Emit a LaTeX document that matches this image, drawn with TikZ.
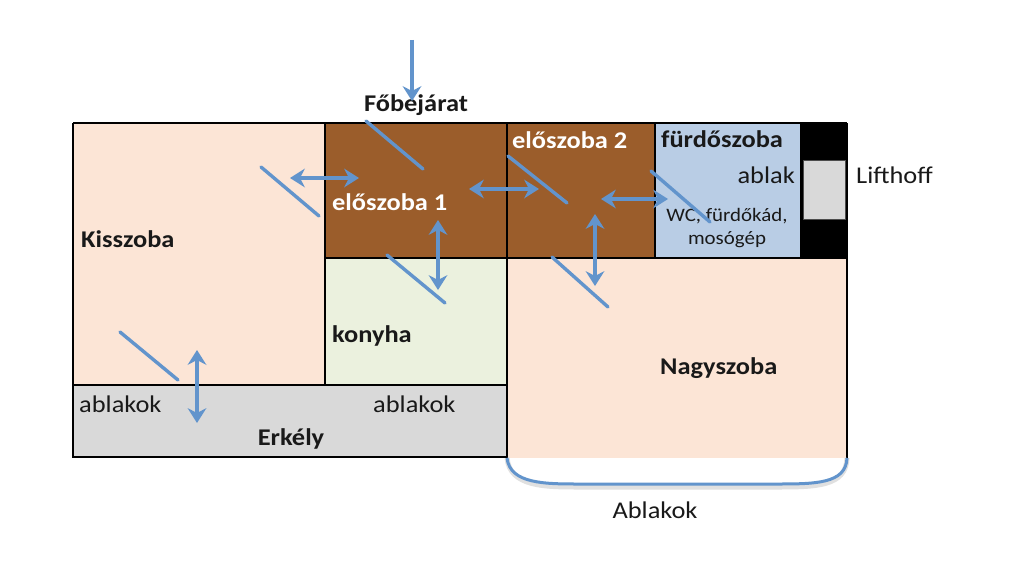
\documentclass[tikz,border=0pt]{standalone}
\usepackage{fontspec}
\setmainfont{Carlito}[FakeStretch=1.1]
\usetikzlibrary{arrows.meta}
\definecolor{peach}{RGB}{252,229,214}
\definecolor{brownroom}{RGB}{155,93,43}
\definecolor{greenroom}{RGB}{235,241,222}
\definecolor{bluroom}{RGB}{185,205,229}
\definecolor{greyroom}{RGB}{217,217,217}
\definecolor{arrowblue}{RGB}{98,148,204}
\definecolor{txt}{RGB}{25,25,25}
\tikzset{
  wall/.style={line width=2pt, black},
  doorline/.style={line width=3.4pt, arrowblue, line cap=round},
  tip/.tip={Stealth[length=15pt,width=19pt,inset=5pt,line width=0pt]},
  dbl/.style={line width=3.5pt, arrowblue, {tip}-{tip}},
  sgl/.style={line width=3.5pt, arrowblue, -{tip}},
  lbl/.style={font=\fontsize{24}{26}\selectfont\bfseries, text=txt, inner sep=0pt, anchor=base west},
  wlbl/.style={lbl, text=white},
  rlbl/.style={font=\fontsize{24}{26}\selectfont, text=txt, inner sep=0pt, anchor=base west},
  slbl/.style={font=\fontsize{19}{21}\selectfont, text=txt, inner sep=0pt, anchor=base},
}
\begin{document}
\begin{tikzpicture}[x=1pt,y=-1pt]
\useasboundingbox[fill=white] (0,0) rectangle (1024,567);
% room fills
\fill[peach] (73,123) rectangle (325,385);
\fill[brownroom] (325,123) rectangle (655,258);
\fill[bluroom] (655,123) rectangle (800,258);
\fill[black] (800,123) rectangle (847,258);
\fill[greyroom, draw=black!70, line width=0.6pt] (803,160) rectangle (845,219);
\fill[greenroom] (325,258) rectangle (507,385);
\fill[greyroom] (73,385) rectangle (507,457);
\fill[peach] (507,258) rectangle (847,458);
% walls
\draw[wall] (73,123) -- (847,123);
\draw[wall] (73,123) -- (73,457) -- (507,457);
\draw[wall] (507,123) -- (507,458);
\draw[wall] (847,123) -- (847,458);
\draw[wall] (325,123) -- (325,385);
\draw[wall] (73,385) -- (507,385);
\draw[wall] (325,258) -- (847,258);
\draw[wall] (655,123) -- (655,258);
% bracket under Nagyszoba
\coordinate (brL) at (507,458);
\coordinate (brR) at (847,458);
\draw[line width=5pt, black!12] (brL) .. controls (510,487) and (545,487) .. (580,487) -- (775,487) .. controls (815,487) and (846,487) .. (brR);
\draw[line width=3pt, arrowblue] (brL) .. controls (510,484) and (545,484) .. (580,484) -- (775,484) .. controls (815,484) and (846,484) .. (brR);
% labels
\node[lbl, anchor=base] (fobej) at (416,111) {Főbejárat};
\node[lbl] (kis) at (81,247) {Kisszoba};
\node[wlbl] (elo1) at (332,210) {előszoba 1};
\node[wlbl] (elo2) at (512,148) {előszoba 2};
\node[lbl] (furdo) at (661,147) {fürdőszoba};
\node[rlbl, anchor=base east] (ablak) at (795,183) {ablak};
\node[slbl] (wc) at (727,221) {WC, fürdőkád,};
\node[slbl] (moso) at (727,244) {mosógép};
\node[rlbl] (lift) at (856,183) {Lifthoff};
\node[lbl] (konyha) at (332,342) {konyha};
\node[lbl] (nagy) at (660,374) {Nagyszoba};
\node[rlbl] (abl1) at (79,412) {ablakok};
\node[rlbl] (abl2) at (373,412) {ablakok};
\node[lbl, anchor=base] (erk) at (291,445) {Erkély};
\node[rlbl, anchor=base] (Abl) at (655,518) {Ablakok};
% door lines
\coordinate (d1a) at (366,121); \coordinate (d1b) at (423,169);
\coordinate (d2a) at (261,167); \coordinate (d2b) at (319,216);
\coordinate (d3a) at (508,156); \coordinate (d3b) at (567,203);
\coordinate (d4a) at (651,171); \coordinate (d4b) at (710,222);
\coordinate (d5a) at (387,255); \coordinate (d5b) at (445,303);
\coordinate (d6a) at (552,257); \coordinate (d6b) at (608,307);
\coordinate (d7a) at (120,332); \coordinate (d7b) at (178,380);
\foreach \d in {1,...,7} {\draw[doorline] (d\d a) -- (d\d b);}
% arrows
\coordinate (eA) at (412,40); \coordinate (eB) at (412,101);
\draw[sgl] (eA) -- (eB);
\coordinate (a1a) at (290,178); \coordinate (a1b) at (359,178);
\draw[dbl] (a1a) -- (a1b);
\coordinate (a2a) at (469,189); \coordinate (a2b) at (539,189);
\draw[dbl] (a2a) -- (a2b);
\coordinate (a3a) at (601,199); \coordinate (a3b) at (668,199);
\draw[dbl] (a3a) -- (a3b);
\coordinate (a4a) at (438,220); \coordinate (a4b) at (438,290);
\draw[dbl] (a4a) -- (a4b);
\coordinate (a5a) at (595,214); \coordinate (a5b) at (595,286);
\draw[dbl] (a5a) -- (a5b);
\coordinate (a6a) at (197,350); \coordinate (a6b) at (197,423);
\draw[dbl] (a6a) -- (a6b);
\end{tikzpicture}
\end{document}
